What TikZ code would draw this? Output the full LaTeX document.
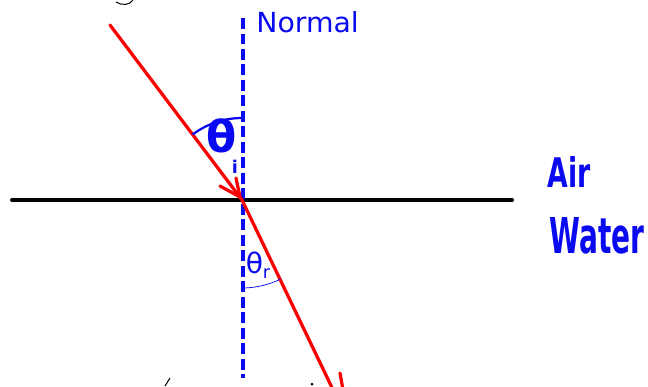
\documentclass[tikz,border=0pt]{standalone}
\usepackage{fontspec}
\setmainfont{DejaVu Sans}
\usetikzlibrary{arrows.meta}
\definecolor{penblue}{RGB}{10,10,240}
\definecolor{penred}{RGB}{250,0,0}
\tikzset{
  surface/.style={line width=0.08cm, black, line cap=round},
  normalline/.style={line width=0.075cm, penblue, dash pattern=on 0.22cm off 0.09cm},
  ray/.style={line width=0.065cm, penred, line cap=round, line join=round},
  anglearc/.style={penblue, line width=0.045cm},
  thinarc/.style={penblue, line width=0.015cm},
  handlabel/.style={text=penblue, inner sep=0pt, font=\bfseries},
}
\begin{document}
\begin{tikzpicture}[x=0.02cm, y=-0.02cm]
\useasboundingbox (0,0) rectangle (648,386);
\clip (0,0) rectangle (648,386);
% coordinates
\coordinate (O) at (242,200);
\coordinate (L) at (12,200);
\coordinate (R) at (512,200);
\coordinate (NT) at (243,18);
\coordinate (NB) at (243,378);
\coordinate (A) at (110,25);
\coordinate (B) at (336,396);
\coordinate (H) at (240,197);
\coordinate (HB1) at (220,186);
\coordinate (HB2) at (236,178);
% surface
\draw[surface] (L) -- (R);
% normal
\draw[normalline] (NT) -- (NB);
% incident ray with hand-drawn head
\draw[ray] (A) -- (O);
\draw[ray] (HB1) -- (H) -- (HB2);
% refracted ray
\draw[ray] (O) -- (B);
\coordinate (T1) at (340,373);
\coordinate (T2) at (343,390);
\draw[ray] (T1) -- (T2);
% angle arcs
\draw[anglearc] (O) ++(-127:82) arc[start angle=-127, end angle=-90, radius=82];
\draw[thinarc] (O) ++(90:88) arc[start angle=90, end angle=64, radius=88];
% labels
\node[handlabel, font=\bfseries\fontsize{25}{25}\selectfont] (thi) at (222,136) {θ};
\node[handlabel, font=\bfseries\fontsize{10}{10}\selectfont] (thisub) at (235,167) {i};
\node[handlabel, font=\fontsize{16}{16}\selectfont] (thr) at (258,265) {θ\raisebox{-0.35ex}{\fontsize{10}{10}\selectfont r}};
\node[handlabel, anchor=west] (normal) at (256,22) {\resizebox{2.05cm}{0.42cm}{\mdseries Normal}};
\node[handlabel, anchor=west] (air) at (547,172) {\resizebox{0.86cm}{0.62cm}{\bfseries Air}};
\node[handlabel, anchor=west] (water) at (549,236) {\resizebox{1.9cm}{0.72cm}{\bfseries Water}};
% cut-off fragments
\draw[black, line width=0.02cm] (116,2) .. controls (122,6) and (130,5) .. (133,0);
\draw[black, line width=0.02cm] (165,386) -- (170,378);
\fill[black] (312,384) circle (1.5);
\end{tikzpicture}
\end{document}
